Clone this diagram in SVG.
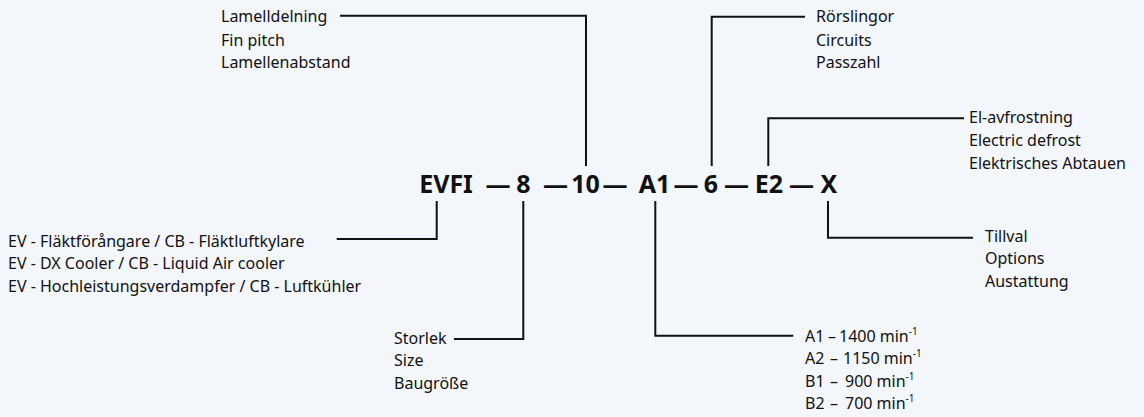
<svg xmlns="http://www.w3.org/2000/svg" width="1144" height="417" viewBox="0 0 1144 417">
<style>
.t{font-family:"Noto Sans","DejaVu Sans",sans-serif;font-size:16px;fill:#111}
.b{font-family:"Noto Sans","DejaVu Sans",sans-serif;font-size:25px;font-weight:bold;fill:#111;text-anchor:middle}
.sup{font-size:10px}
.c{fill:none;stroke:#111;stroke-width:2}
</style>
<rect width="1144" height="417" fill="#f3f6fb"/>
<g id="code">
<text class="b" x="446" y="193">EVFI</text>
<text class="b" x="498" y="193">—</text>
<text class="b" x="523.5" y="193">8</text>
<text class="b" x="555.5" y="193">—</text>
<text class="b" x="585.5" y="193">10</text>
<text class="b" x="615" y="193">—</text>
<text class="b" x="654.5" y="193">A1</text>
<text class="b" x="686" y="193">—</text>
<text class="b" x="711" y="193">6</text>
<text class="b" x="736.5" y="193">—</text>
<text class="b" x="769" y="193">E2</text>
<text class="b" x="801.5" y="193">—</text>
<text class="b" x="829" y="193">X</text>
</g>
<g id="finpitch">
<text class="t" x="221" y="22">Lamelldelning</text>
<text class="t" x="221" y="45.5">Fin pitch</text>
<text class="t" x="221" y="68">Lamellenabstand</text>
</g>
<g id="circuits">
<text class="t" x="816" y="22">Rörslingor</text>
<text class="t" x="816" y="45.5">Circuits</text>
<text class="t" x="816" y="68">Passzahl</text>
</g>
<g id="defrost">
<text class="t" x="969" y="123">El-avfrostning</text>
<text class="t" x="969" y="146">Electric defrost</text>
<text class="t" x="969" y="169">Elektrisches Abtauen</text>
</g>
<g id="options">
<text class="t" x="985" y="241.5">Tillval</text>
<text class="t" x="985" y="264">Options</text>
<text class="t" x="985" y="286.5">Austattung</text>
</g>
<g id="type">
<text class="t" x="8" y="246.5">EV - Fläktförångare / CB - Fläktluftkylare</text>
<text class="t" x="8" y="269">EV - DX Cooler / CB - Liquid Air cooler</text>
<text class="t" x="8" y="291.5">EV - Hochleistungsverdampfer / CB - Luftkühler</text>
</g>
<g id="size">
<text class="t" x="394" y="343.5">Storlek</text>
<text class="t" x="394" y="366">Size</text>
<text class="t" x="394" y="388.5">Baugröße</text>
</g>
<g id="fan">
<text class="t" x="805" y="341.5">A1<tspan x="828">–</tspan><tspan x="839">1400 min</tspan><tspan class="sup" dy="-7">-1</tspan></text>
<text class="t" x="805" y="364">A2<tspan x="830">–</tspan><tspan x="843">1150 min</tspan><tspan class="sup" dy="-7">-1</tspan></text>
<text class="t" x="805" y="386.5">B1<tspan x="830">–</tspan><tspan x="845">900 min</tspan><tspan class="sup" dy="-7">-1</tspan></text>
<text class="t" x="805" y="409">B2<tspan x="830">–</tspan><tspan x="845">700 min</tspan><tspan class="sup" dy="-7">-1</tspan></text>
</g>
<g id="connectors">
<polyline class="c" points="340,15.7 586,15.7 586,166"/>
<polyline class="c" points="805,16.7 711.7,16.7 711.7,166"/>
<polyline class="c" points="964,118.3 768.3,118.3 768.3,166"/>
<polyline class="c" points="828,201 828,237.7 973,237.7"/>
<polyline class="c" points="336.7,239 436.7,239 436.7,201"/>
<polyline class="c" points="454,339 523.3,339 523.3,201"/>
<polyline class="c" points="655.3,201 655.3,335.7 793.3,335.7"/>
</g>
</svg>
